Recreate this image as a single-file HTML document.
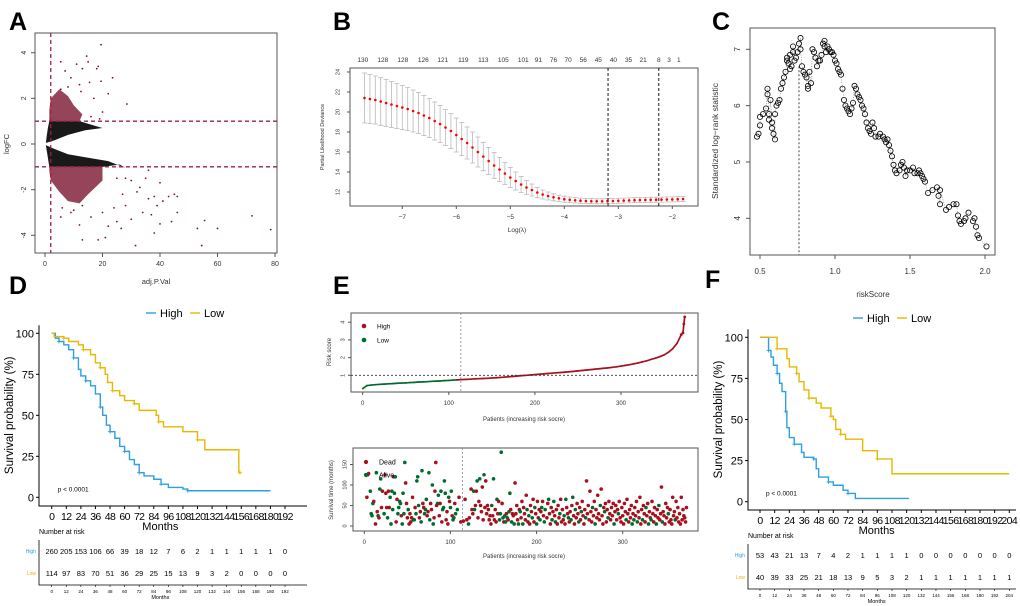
<!DOCTYPE html>
<html><head><meta charset="utf-8"><title>Figure</title>
<style>
html,body{margin:0;padding:0;background:#fff;}
svg{display:block;font-family:"Liberation Sans",Arial,sans-serif;}
</style></head>
<body>
<svg id="fig" width="1020" height="606" viewBox="0 0 1020 606" xmlns="http://www.w3.org/2000/svg">
<rect x="0" y="0" width="1020" height="606" fill="#fff"/>
<g font-weight="bold" font-size="25" fill="#000">
<text x="9" y="30">A</text>
<text x="333" y="30">B</text>
<text x="712" y="30">C</text>
<text x="9" y="294">D</text>
<text x="333" y="294">E</text>
<text x="705" y="288">F</text>
</g>
<g id="pA"></g>
<g id="pB"></g>
<g id="pC"></g>
<g id="pD"></g>
<g id="pE"></g>
<g id="pF"></g>
</svg>
<script>
// ---------- DATA ----------
const volcOutAdj = [19.5,14.5,5.5,15,11,18.5,13,18,7,23.5,15.5,19.5,9,12,22,28.5,20,16,19,5.5,8,12.5,17,25,28,30,33,36,38,40,41,43,46,46,44,40,38,37,34,30,26.5,25,22,21,18.5,13,31.5,54.5,53,55.5,60,72,78.5,12,16,5.5,20,28,24,27,32,36,35,10,13,6,9,45,39];
const volcOutFC  = [4.35,3.85,3.6,3.6,3.5,3.4,3.3,3.3,3.2,2.9,2.7,2.75,2.9,2.6,2.2,1.75,1.4,1.2,1.1,2.4,2.5,2.3,2.0,-1.5,-1.5,-1.6,-1.9,-2.4,-2.3,-1.7,-2.5,-2.3,-2.3,-3.0,-3.4,-3.5,-3.9,-3.1,-3.0,-3.3,-3.7,-3.4,-3.6,-4.1,-4.2,-4.2,-4.45,-4.45,-3.7,-3.35,-3.7,-3.15,-3.75,-3.55,-3.2,-3.2,-3.0,-2.7,-2.8,-2.2,-2.1,-1.15,-1.5,-2.9,-2.7,-2.8,-3.0,-2.2,-2.7];
const volcXTicks = [0,20,40,60,80];
const volcYTicks = [-4,-2,0,2,4];
const volcBlackUp = [[0.3,0.05],[0.6,0.35],[1,0.7],[1.5,1],[12,1],[16,0.85],[20,0.7],[14,0.6],[8,0.4],[3,0.15]];
const volcBlackDn = [[0.3,-0.05],[1,-0.6],[1.5,-1],[20,-1],[26,-0.9],[28,-1.05],[22,-0.75],[15,-0.6],[8,-0.45],[3,-0.2]];
const volcRedUp = [[1.5,1],[12,1],[13,1.3],[10,1.7],[8,2.1],[5,2.4],[2,2.0],[1.5,1.5]];
const volcRedDn = [[1.5,-1],[20,-1],[20,-1.6],[15,-2.2],[12,-2.6],[8,-2.5],[5,-2.1],[2,-1.6],[1.5,-1.2]];

const lassoLambda = [-7.7,-7.6,-7.5,-7.4,-7.3,-7.2,-7.1,-7.0,-6.9,-6.8,-6.7,-6.6,-6.5,-6.4,-6.3,-6.2,-6.1,-6.0,-5.9,-5.8,-5.7,-5.6,-5.5,-5.4,-5.3,-5.2,-5.1,-5.0,-4.9,-4.8,-4.7,-4.6,-4.5,-4.4,-4.3,-4.2,-4.1,-4.0,-3.9,-3.8,-3.7,-3.6,-3.5,-3.4,-3.3,-3.2,-3.1,-3.0,-2.9,-2.8,-2.7,-2.6,-2.5,-2.4,-2.3,-2.2,-2.1,-2.0,-1.9,-1.8];
const lassoMean = [21.4,21.3,21.2,21.05,20.9,20.75,20.6,20.45,20.3,20.1,19.9,19.65,19.4,19.1,18.8,18.45,18.1,17.7,17.3,16.9,16.45,16.0,15.55,15.1,14.65,14.25,13.85,13.45,13.1,12.75,12.45,12.2,11.95,11.75,11.6,11.47,11.37,11.28,11.22,11.17,11.13,11.1,11.08,11.07,11.07,11.08,11.1,11.12,11.14,11.16,11.18,11.2,11.21,11.22,11.23,11.24,11.25,11.26,11.28,11.3];
const lassoErr = [2.5,2.45,2.4,2.38,2.35,2.3,2.25,2.2,2.15,2.1,2.05,2.0,1.95,1.9,1.85,1.8,1.75,1.7,1.65,1.6,1.55,1.5,1.42,1.35,1.28,1.2,1.1,1.0,0.9,0.8,0.7,0.6,0.52,0.45,0.4,0.35,0.32,0.3,0.28,0.27,0.26,0.25,0.25,0.25,0.25,0.25,0.25,0.25,0.25,0.25,0.25,0.25,0.25,0.25,0.25,0.25,0.25,0.25,0.25,0.25];
const lassoTopLambda = [-7.73,-7.36,-6.99,-6.61,-6.25,-5.87,-5.5,-5.13,-4.76,-4.48,-4.2,-3.93,-3.65,-3.37,-3.09,-2.81,-2.54,-2.25,-2.06,-1.88];
const lassoTopLabels = ["130","128","128","126","121","119","113","105","101","91","76","70","56","45","40","35","21","8","3","1"];
const lassoXTicks = [-7,-6,-5,-4,-3,-2];
const lassoYTicks = [12,14,16,18,20,22,24];
const lassoMinLines = [-3.19,-2.25];

const cutX = [0.48,0.49,0.5,0.5,0.52,0.54,0.55,0.55,0.56,0.56,0.57,0.58,0.58,0.59,0.6,0.6,0.61,0.62,0.63,0.64,0.65,0.66,0.67,0.68,0.68,0.69,0.7,0.7,0.71,0.72,0.72,0.73,0.74,0.75,0.76,0.77,0.77,0.78,0.79,0.8,0.81,0.82,0.82,0.83,0.84,0.85,0.86,0.87,0.88,0.89,0.9,0.91,0.92,0.93,0.93,0.94,0.95,0.96,0.97,0.98,0.99,1.0,1.01,1.02,1.03,1.04,1.05,1.06,1.07,1.08,1.09,1.1,1.11,1.12,1.13,1.14,1.15,1.16,1.17,1.18,1.19,1.2,1.21,1.22,1.23,1.24,1.25,1.26,1.27,1.29,1.3,1.32,1.33,1.34,1.35,1.36,1.37,1.38,1.39,1.4,1.41,1.43,1.44,1.45,1.46,1.47,1.48,1.5,1.52,1.53,1.55,1.56,1.57,1.58,1.59,1.6,1.62,1.65,1.68,1.69,1.7,1.7,1.74,1.76,1.79,1.81,1.82,1.83,1.84,1.86,1.87,1.89,1.92,1.93,1.94,1.95,1.96,2.01];
const cutY = [5.45,5.5,5.65,5.8,5.85,5.95,6.3,6.2,5.85,5.75,6.1,5.7,5.6,5.5,5.4,5.85,6.0,6.05,6.1,6.3,6.4,6.5,6.6,6.8,6.85,6.75,6.9,6.65,6.7,7.05,6.95,6.8,6.85,6.95,7.1,7.2,7.0,6.7,6.6,6.55,6.5,6.3,6.35,6.6,6.4,7.0,6.95,6.85,6.7,6.8,6.8,6.9,7.1,7.15,7.05,6.95,7.05,7.0,6.95,6.95,6.9,6.8,6.75,6.65,6.6,6.55,6.3,6.1,6.0,5.95,5.9,5.85,5.95,6.05,6.35,6.3,6.2,6.15,6.1,6.0,5.95,5.85,5.7,5.6,5.55,5.5,5.7,5.6,5.45,5.45,5.5,5.45,5.4,5.35,5.4,5.3,5.2,5.1,4.95,4.85,4.8,4.85,4.95,5.0,4.9,4.75,4.85,4.85,4.9,4.8,4.8,4.85,4.8,4.75,4.7,4.65,4.45,4.5,4.55,4.4,4.25,4.5,4.15,4.2,4.25,4.25,4.05,3.95,3.9,3.95,4.0,4.1,3.95,4.0,3.85,3.7,3.65,3.5];
const cutXTicks = [0.5,1.0,1.5,2.0];
const cutYTicks = [4,5,6,7];
const cutOptimal = 0.76;

const dHighT = [0,3,6,10,14,18,22,24,28,32,36,40,42,45,48,52,56,60,64,68,72,76,84,90,96,108,112,180];
const dHighS = [100,97,95,93,90,85,78,74,71,68,63,55,50,44,40,36,31,28,23,20,15,13,11,8,6,5,4,4];
const dLowT = [0,2,10,14,22,26,32,36,40,44,46,50,56,60,68,72,86,88,92,108,120,126,154,155];
const dLowS = [100,98,97,95,93,90,87,82,79,75,70,65,62,59,57,53,50,46,43,40,35,29,15,15];
const dXTicks = [0,12,24,36,48,60,72,84,96,108,120,132,144,156,168,180,192];
const dYTicks = [0,25,50,75,100];
const dRiskHigh = [260,205,153,106,66,39,18,12,7,6,2,1,1,1,1,1,0];
const dRiskLow = [114,97,83,70,51,36,29,25,15,13,9,3,2,0,0,0,0];

const fHighT = [0,6,7,9,11,14,16,18,21,22,24,28,34,36,44,46,48,56,60,68,72,78,122];
const fHighS = [100,100,92,88,83,78,72,67,55,45,39,35,30,27,26,20,15,12,10,7,5,2,2];
const fLowT = [0,12,14,22,24,30,32,36,40,46,50,58,60,62,66,70,84,96,108,204];
const fLowS = [100,100,93,87,82,78,73,68,63,60,57,52,50,44,41,38,31,26,17,17];
const fXTicks = [0,12,24,36,48,60,72,84,96,108,120,132,144,156,168,180,192,204];
const fRiskHigh = [53,43,21,13,7,4,2,1,1,1,1,0,0,0,0,0,0,0];
const fRiskLow = [40,39,33,25,21,18,13,9,5,3,2,1,1,1,1,1,1,1];

const riskIdx = [0,5,10,15,20,25,30,35,40,45,50,55,60,65,70,75,80,85,90,95,100,105,110,115,120,125,130,135,140,145,150,155,160,165,170,175,180,185,190,195,200,205,210,215,220,225,230,235,240,245,250,255,260,265,270,275,280,285,290,295,300,305,310,315,320,325,330,335,340,345,350,355,360,365,370,372,373,374];
const riskVal = [0.25,0.42,0.45,0.47,0.49,0.5,0.52,0.53,0.55,0.56,0.57,0.59,0.6,0.62,0.63,0.64,0.66,0.67,0.68,0.7,0.71,0.73,0.74,0.76,0.77,0.78,0.8,0.81,0.82,0.83,0.85,0.86,0.88,0.9,0.92,0.94,0.96,0.98,1.0,1.02,1.04,1.06,1.08,1.1,1.12,1.14,1.16,1.18,1.2,1.22,1.25,1.27,1.3,1.32,1.35,1.37,1.4,1.42,1.45,1.48,1.52,1.56,1.6,1.65,1.7,1.76,1.82,1.9,1.97,2.05,2.15,2.3,2.5,2.8,3.3,3.4,3.9,4.3];
const riskCut = 114;
const riskXTicks = [0,100,200,300];
const riskYTicks = [1,2,3,4];
const survYTicks = [0,50,100,150];
const survPts = [[3,70,1],[4,125,0],[5,128,1],[7,85,0],[8,30,0],[9,25,0],[10,55,0],[11,60,1],[13,5,1],[14,130,0],[15,35,1],[16,25,0],[17,20,1],[18,90,0],[19,115,0],[20,45,1],[21,85,1],[23,30,0],[24,125,1],[25,80,1],[26,45,1],[27,20,0],[28,85,1],[29,45,1],[30,70,0],[31,5,0],[32,85,0],[33,40,0],[34,120,1],[35,80,0],[36,120,0],[37,10,1],[38,65,1],[39,30,0],[40,45,0],[41,60,0],[42,55,0],[43,25,1],[44,5,0],[45,80,0],[46,30,0],[47,155,0],[48,105,1],[49,55,1],[50,20,1],[51,40,0],[52,5,1],[53,30,1],[54,10,1],[55,20,1],[56,70,1],[57,15,0],[58,15,0],[59,45,1],[60,30,0],[61,110,0],[62,120,0],[63,50,0],[64,20,1],[65,35,1],[66,10,0],[67,135,0],[68,55,1],[69,45,1],[70,30,0],[71,40,0],[72,65,0],[73,25,1],[74,35,1],[75,130,0],[76,15,0],[77,55,1],[78,40,1],[79,100,0],[80,5,0],[81,20,1],[82,85,1],[83,155,1],[84,50,1],[85,55,0],[86,75,0],[87,25,1],[88,55,1],[89,85,0],[90,10,1],[91,40,0],[92,45,0],[93,110,0],[94,80,0],[95,15,1],[96,35,1],[97,5,1],[98,70,0],[99,60,1],[100,45,0],[101,85,0],[102,25,1],[103,15,0],[104,20,0],[105,55,1],[106,30,0],[108,40,0],[110,70,1],[112,10,1],
[115,12,1],[117,65,1],[119,15,1],[121,5,0],[122,20,1],[124,90,1],[125,40,1],[126,30,1],[127,85,0],[128,40,0],[129,50,1],[130,85,1],[131,110,0],[132,20,1],[133,60,1],[134,115,0],[135,50,1],[136,35,1],[137,95,1],[138,15,1],[139,125,0],[140,45,1],[141,110,1],[142,30,1],[143,50,1],[144,40,1],[145,15,1],[146,25,1],[147,5,1],[148,50,0],[149,25,1],[150,115,0],[151,15,1],[152,40,1],[153,10,1],[154,65,0],[155,30,1],[156,60,1],[157,15,0],[158,30,0],[159,180,0],[160,55,1],[161,20,0],[162,10,1],[163,25,0],[164,10,0],[165,30,1],[166,20,0],[167,15,1],[168,35,0],[169,80,0],[170,40,1],[171,10,0],[172,30,1],[173,25,1],[174,5,0],[175,105,1],[176,30,1],[177,50,1],[178,15,1],[179,5,0],[180,40,1],[181,35,0],[182,20,1],[183,60,1],[184,5,0],[185,45,1],[186,30,1],[187,15,1],[188,75,1],[189,40,0],[190,10,1],[191,25,0],[192,5,1],[193,50,1],[194,35,1],[195,20,0],[196,65,1],[197,10,1],[198,45,0],[199,30,1],[200,5,0],[201,60,1],[202,20,1],[203,40,1],[204,15,0],[205,35,1],[206,45,0],[207,60,1],[208,25,1],[209,10,0],[210,40,0],[212,20,1],[213,55,1],[214,65,0],[215,30,1],[216,5,1],[217,45,1],[218,15,0],[219,35,1],[220,60,0],[221,25,1],[222,10,0],[223,40,1],[224,5,1],[225,50,1],[226,20,1],[227,30,0],[228,65,1],[229,10,1],[230,40,1],[231,15,1],[232,25,0],[233,5,1],[234,65,0],[235,45,1],[236,30,1],[237,20,0],[238,10,1],[239,35,1],[240,15,0],[241,50,1],[242,70,0],[243,25,1],[244,5,1],[245,40,0],[246,20,1],[247,55,1],[248,30,1],[249,10,0],[250,45,1],[251,15,1],[252,35,0],[253,60,1],[254,25,1],[255,5,1],[256,40,1],[257,20,0],[258,110,1],[259,30,1],[260,50,1],[261,15,1],[262,85,1],[263,35,1],[264,10,1],[265,45,0],[266,25,1],[267,60,1],[268,5,0],[269,40,1],[270,20,1],[271,75,1],[272,30,1],[273,15,1],[274,50,0],[275,90,1],[276,25,1],[277,5,1],[278,45,1],[279,35,0],[280,55,1],[281,10,1],[282,40,1],[283,20,0],[284,60,1],[285,30,1],[286,15,1],[287,45,1],[288,25,1],[289,55,1],[290,5,0],[291,35,1],[292,50,1],[293,15,1],[294,40,1],[295,30,0],[296,60,1],[297,20,1],[298,10,1],[299,45,1],[300,25,1],[301,5,1],[302,55,1],[303,35,1],[304,15,0],[305,65,1],[306,30,1],[307,10,1],[308,40,1],[309,20,1],[310,50,1],[311,5,0],[312,30,1],[313,15,0],[314,45,1],[315,25,1],[316,60,1],[317,10,0],[318,35,1],[319,20,1],[320,70,1],[321,5,1],[322,40,1],[323,15,0],[324,50,1],[325,30,1],[326,10,1],[327,45,0],[328,25,1],[329,55,1],[330,5,0],[331,35,1],[332,20,1],[333,15,0],[334,60,1],[335,30,1],[336,10,1],[337,45,1],[338,25,1],[339,5,0],[340,40,1],[341,20,1],[342,50,0],[343,15,1],[344,30,1],[345,95,1],[346,10,0],[347,35,1],[348,25,1],[349,5,1],[350,55,1],[351,20,1],[352,45,1],[353,30,0],[354,10,1],[355,40,1],[356,15,1],[357,5,1],[358,70,1],[359,25,1],[360,35,1],[361,15,0],[362,60,1],[363,20,1],[364,45,1],[365,10,1],[366,30,1],[367,5,1],[368,70,1],[369,15,1],[370,40,1],[371,25,1],[372,20,1],[373,10,1],[374,45,1]];

// ---------- HELPERS ----------
const NS = "http://www.w3.org/2000/svg";
function mk(tag, attrs, parent){ const e=document.createElementNS(NS,tag); for(const k in attrs) e.setAttribute(k,attrs[k]); parent.appendChild(e); return e; }
function txt(parent, x, y, s, size, anchor, extra){ const e=mk("text",Object.assign({x:x,y:y,"font-size":size,"text-anchor":anchor||"middle",fill:"#000"},extra||{}),parent); e.textContent=s; return e; }
function lin(a0,a1,p0,p1){ return v=>p0+(v-a0)*(p1-p0)/(a1-a0); }

// ---------- PANEL A ----------
(function(){
 const g=document.getElementById("pA");
 const X=lin(0,80,45,275), Y=lin(0,4,144,52.7);
 const box=mk("rect",{x:35,y:33,width:242,height:220,fill:"none",stroke:"#555","stroke-width":1},g);
 
 
 [[volcBlackUp,"#000",0.9],[volcBlackDn,"#000",0.9],[volcRedUp,"#7a1530",0.8],[volcRedDn,"#7a1530",0.8]].forEach(([poly,c,o])=>{
  const p=mk("polygon",{points:poly.map(d=>X(d[0])+","+Y(d[1])).join(" "),fill:c,opacity:o},g);
  
  
 });
 volcOutAdj.forEach((a,i)=>{
  const c=mk("circle",{cx:X(a),cy:Y(volcOutFC[i]),r:0.9,fill:"#7a1530"},g);
  
  
 });
 [1,-1].forEach(v=>{const l=mk("line",{x1:35,x2:277,y1:Y(v),y2:Y(v),stroke:"#9b2444","stroke-width":1.3,"stroke-dasharray":"4,3"},g);
  
  });
 const vl=mk("line",{x1:X(2),x2:X(2),y1:33,y2:253,stroke:"#9b2444","stroke-width":1.3,"stroke-dasharray":"4,3"},g);
 
 
 volcXTicks.forEach(v=>{mk("line",{x1:X(v),x2:X(v),y1:253,y2:257,stroke:"#555"},g);
  const t=txt(g,X(v),266,String(v),7,"middle",{fill:"#333"});
  
  });
 volcYTicks.forEach(v=>{mk("line",{x1:31,x2:35,y1:Y(v),y2:Y(v),stroke:"#555"},g);
  const t=txt(g,24,Y(v),String(v),7,"middle",{fill:"#333",transform:`rotate(-90 24 ${Y(v)})`,"dominant-baseline":"middle"});
  
  });
 const xl=txt(g,156,284,"adj.P.Val",7.5,"middle",{fill:"#333"});
 
 
 const yl=txt(g,9,144,"logFC",7.5,"middle",{fill:"#333",transform:"rotate(-90 9 144)"});
 
 
})();

// ---------- PANEL B ----------
(function(){
 const g=document.getElementById("pB");
 const X=lin(-7,-2,402.3,672.3), Y=lin(12,24,192,72);
 const box=mk("rect",{x:350,y:68,width:348,height:138,fill:"none",stroke:"#555"},g);
 
 
 lassoLambda.forEach((l,i)=>{
  const x=X(l), hi=Y(lassoMean[i]+lassoErr[i]), lo=Y(lassoMean[i]-lassoErr[i]);
  const e=mk("path",{d:`M${x},${hi}V${lo}M${x-2.5},${hi}H${x+2.5}M${x-2.5},${lo}H${x+2.5}`,stroke:"#b8b8b8","stroke-width":0.8,fill:"none"},g);
  
  
 });
 lassoLambda.forEach((l,i)=>{
  const c=mk("circle",{cx:X(l),cy:Y(lassoMean[i]),r:1.3,fill:"#ff0000"},g);
  
  
 });
 lassoMinLines.forEach(v=>{const l=mk("line",{x1:X(v),x2:X(v),y1:68,y2:206,stroke:"#000","stroke-dasharray":"3,2","stroke-width":0.9},g);
  
  });
 lassoXTicks.forEach(v=>{mk("line",{x1:X(v),x2:X(v),y1:206,y2:209,stroke:"#555"},g);
  const t=txt(g,X(v),219,"\u2212"+Math.abs(v),6.5,"middle",{fill:"#333"});
  
  });
 lassoYTicks.forEach(v=>{mk("line",{x1:347,x2:350,y1:Y(v),y2:Y(v),stroke:"#555"},g);
  const t=txt(g,338,Y(v),String(v),5.5,"middle",{fill:"#333",transform:`rotate(-90 338 ${Y(v)})`,"dominant-baseline":"middle"});
  
  });
 lassoTopLambda.forEach((v,i)=>{const t=txt(g,X(v),62,lassoTopLabels[i],6.5,"middle",{fill:"#333"});
  
  });
 const xl=txt(g,517,232,"Log(\u03bb)",6.5,"middle",{fill:"#333"});
 
 
 const yl=txt(g,324,137,"Partial Likelihood Deviance",5.5,"middle",{fill:"#333",transform:"rotate(-90 324 137)"});
 
 
})();

// ---------- PANEL C ----------
(function(){
 const g=document.getElementById("pC");
 const X=lin(0.5,2.0,760,985), Y=lin(4,7,218.3,49.3);
 const box=mk("rect",{x:750,y:28,width:245,height:227,fill:"none",stroke:"#555"},g);
 
 
 const pl=mk("polyline",{points:cutX.map((x,i)=>X(x)+","+Y(cutY[i])).join(" "),fill:"none",stroke:"#555","stroke-width":0.5,"stroke-dasharray":"1,1.5"},g);
 
 
 cutX.forEach((x,i)=>{const c=mk("circle",{cx:X(x),cy:Y(cutY[i]),r:2.6,fill:"none",stroke:"#000","stroke-width":0.8},g);
  
  });
 const vl=mk("line",{x1:X(cutOptimal),x2:X(cutOptimal),y1:Y(6.7),y2:255,stroke:"#333","stroke-dasharray":"2,2","stroke-width":0.9},g);
 
 
 cutXTicks.forEach(v=>{mk("line",{x1:X(v),x2:X(v),y1:255,y2:259,stroke:"#555"},g);
  const t=txt(g,X(v),274,v.toFixed(1),8,"middle",{fill:"#333"});
  
  });
 cutYTicks.forEach(v=>{mk("line",{x1:746,x2:750,y1:Y(v),y2:Y(v),stroke:"#555"},g);
  const t=txt(g,738,Y(v),String(v),8,"middle",{fill:"#333",transform:`rotate(-90 738 ${Y(v)})`,"dominant-baseline":"middle"});
  
  });
 const xl=txt(g,873,297,"riskScore",8,"middle",{fill:"#333"});
 
 
 const yl=txt(g,718,141,"Standardized log\u2212rank statistic",8.5,"middle",{fill:"#333",transform:"rotate(-90 718 141)"});
 
 
})();

// ---------- KM ----------
function km(g, cfg){
 const X=lin(0,cfg.xmax,cfg.x0,cfg.x1), Y=lin(0,100,cfg.y0,cfg.y100);
 const ax=mk("path",{d:`M${cfg.axL},${cfg.y100-8}V${cfg.axB}H${cfg.axR}`,stroke:"#000","stroke-width":1,fill:"none"},g);
 
 
 [[cfg.hT,cfg.hS,"#2e9fdf","high-curve"],[cfg.lT,cfg.lS,"#e7b800","low-curve"]].forEach(([T,S,c,n])=>{
  let d=`M${X(T[0])},${Y(S[0])}`;
  for(let i=1;i<T.length;i++){ d+=`H${X(T[i])}V${Y(S[i])}`; }
  const p=mk("path",{d:d,stroke:c,"stroke-width":1.4,fill:"none"},g);
  
  
  for(let i=2;i<T.length;i+=3){ const m=mk("path",{d:`M${X(T[i])-2},${Y(S[i])}h4M${X(T[i])},${Y(S[i])-2}v4`,stroke:c,"stroke-width":0.8},g);
   
    }
 });
 cfg.yTicks.forEach(v=>{mk("line",{x1:cfg.axL-3,x2:cfg.axL,y1:Y(v),y2:Y(v),stroke:"#000"},g);
  const t=txt(g,cfg.axL-5,Y(v)+4,String(v),11,"end");
  
  });
 cfg.xTicks.forEach(v=>{mk("line",{x1:X(v),x2:X(v),y1:cfg.axB,y2:cfg.axB+3,stroke:"#000"},g);
  const t=txt(g,X(v),cfg.axB+14,String(v),10.5,"middle",{"letter-spacing":"-0.6"});
  
  });
 const mo=txt(g,(cfg.x0+cfg.x1)/2-8,cfg.axB+24,"Months",11);
 
 
 const yl=txt(g,cfg.axL-26,(cfg.y0+cfg.y100)/2,"Survival probability (%)",11.5,"middle",{transform:`rotate(-90 ${cfg.axL-26} ${(cfg.y0+cfg.y100)/2})`});
 
 
 const pv=txt(g,cfg.x0+6,cfg.y0-6,"p < 0.0001",6.5,"start");
 
 
 const lg=mk("g",{},g);
 
 
 const lx=cfg.legX, ly=cfg.legY;
 mk("line",{x1:lx,x2:lx+10,y1:ly,y2:ly,stroke:"#2e9fdf","stroke-width":1.4},lg);
 const lh=txt(lg,lx+14,ly+4,"High",11,"start");  
 mk("line",{x1:lx+44,x2:lx+54,y1:ly,y2:ly,stroke:"#e7b800","stroke-width":1.4},lg);
 const ll=txt(lg,lx+58,ly+4,"Low",11,"start");  
 const nr=txt(g,cfg.axL,cfg.tTitle,"Number at risk",7,"start");
 
 
 const tax=mk("path",{d:`M${cfg.axL},${cfg.tTitle+6}V${cfg.tAx}H${cfg.axR}`,stroke:"#000","stroke-width":0.8,fill:"none"},g);
 
 
 [[cfg.rH,cfg.tH,"#2e9fdf","High"],[cfg.rL,cfg.tL,"#e7b800","Low"]].forEach(([arr,y,c,n])=>{
  const lab=txt(g,cfg.axL-3,y+2,n,5,"end",{fill:c});
  
  
  arr.forEach((v,i)=>{const t=txt(g,X(cfg.xTicks[i]),y+3,String(v),7.5);
   
   });
 });
 cfg.xTicks.forEach(v=>{mk("line",{x1:X(v),x2:X(v),y1:cfg.tAx,y2:cfg.tAx+2,stroke:"#000","stroke-width":0.6},g);
  const t=txt(g,X(v),cfg.tAx+8,String(v),4.5);
  
  });
 const m2=txt(g,(cfg.x0+cfg.x1)/2-8,cfg.tAx+14,"Months",5.5);
 
 
}
km(document.getElementById("pD"),{xmax:192,x0:51.7,x1:285,y0:497.3,y100:333.3,axL:39,axB:506,axR:307,
 hT:dHighT,hS:dHighS,lT:dLowT,lS:dLowS,xTicks:dXTicks,yTicks:dYTicks,legX:146,legY:313,
 tTitle:534,tH:551,tL:573,tAx:585,rH:dRiskHigh,rL:dRiskLow});
km(document.getElementById("pF"),{xmax:204,x0:760,x1:1009.3,y0:501.7,y100:337.3,axL:748,axB:510,axR:1016,
 hT:fHighT,hS:fHighS,lT:fLowT,lS:fLowS,xTicks:fXTicks,yTicks:dYTicks,legX:853,legY:318,
 tTitle:538,tH:555,tL:577,tAx:589,rH:fRiskHigh,rL:fRiskLow});

// ---------- PANEL E ----------
(function(){
 const g=document.getElementById("pE");
 const X=lin(0,300,362.7,621), Y=lin(0,1,393,375.3);
 const RED="#a8101e", GRN="#006b2f";
 const box=mk("rect",{x:351,y:313,width:347,height:79,fill:"none",stroke:"#555"},g);
 
 
 riskIdx.forEach((p,i)=>{ if(i===0) return;
  const c=p<=riskCut?GRN:RED;
  const s=mk("line",{x1:X(riskIdx[i-1]),y1:Y(riskVal[i-1]),x2:X(p),y2:Y(riskVal[i]),stroke:c,"stroke-width":1.7,"stroke-linecap":"round"},g);
  
  
 });
 riskIdx.slice(-4).forEach((p,k)=>{const i=riskIdx.length-4+k;
  const c=mk("circle",{cx:X(p),cy:Y(riskVal[i]),r:1.4,fill:RED},g);
  
  });
 const h=mk("line",{x1:351,x2:698,y1:Y(1),y2:Y(1),stroke:"#333","stroke-dasharray":"2,2","stroke-width":0.8},g);
 
 
 const v=mk("line",{x1:X(riskCut),x2:X(riskCut),y1:313,y2:392,stroke:"#888","stroke-dasharray":"2,2","stroke-width":0.8},g);
 
 
 riskXTicks.forEach(t=>{mk("line",{x1:X(t),x2:X(t),y1:392,y2:395,stroke:"#555"},g);
  const e=txt(g,X(t),405,String(t),6,"middle",{fill:"#333"});
  
  });
 riskYTicks.forEach(t=>{mk("line",{x1:348,x2:351,y1:Y(t),y2:Y(t),stroke:"#555"},g);
  const e=txt(g,343,Y(t),String(t),5.5,"middle",{fill:"#333",transform:`rotate(-90 343 ${Y(t)})`,"dominant-baseline":"middle"});
  
  });
 const xl=txt(g,524,421,"Patients (increasing risk socre)",6,"middle",{fill:"#333"});
 
 
 const yl=txt(g,331,352,"Risk score",6,"middle",{fill:"#333",transform:"rotate(-90 331 352)"});
 
 
 [[RED,"High",326],[GRN,"Low",340]].forEach(([c,n,y])=>{
  const d=mk("circle",{cx:364,cy:y,r:2.3,fill:c},g);
  
  
  const t=txt(g,377,y+2.5,n,6.5,"start");
  
  
 });
 const X2=lin(0,300,364.3,622.7), Y2=lin(0,150,526,464.5);
 const box2=mk("rect",{x:353,y:448,width:345,height:83,fill:"none",stroke:"#555"},g);
 
 
 const v2=mk("line",{x1:X2(riskCut),x2:X2(riskCut),y1:448,y2:531,stroke:"#888","stroke-dasharray":"2,2","stroke-width":0.8},g);
 
 
 survPts.forEach(d=>{
  const c=mk("circle",{cx:X2(d[0]),cy:Y2(d[1]),r:1.8,fill:d[2]?RED:GRN},g);
  
  
 });
 riskXTicks.forEach(t=>{mk("line",{x1:X2(t),x2:X2(t),y1:531,y2:534,stroke:"#555"},g);
  const e=txt(g,X2(t),544,String(t),6,"middle",{fill:"#333"});
  
  });
 survYTicks.forEach(t=>{mk("line",{x1:350,x2:353,y1:Y2(t),y2:Y2(t),stroke:"#555"},g);
  const e=txt(g,345,Y2(t),String(t),5.5,"middle",{fill:"#333",transform:`rotate(-90 345 ${Y2(t)})`,"dominant-baseline":"middle"});
  
  });
 const xl2=txt(g,524,558,"Patients (increasing risk socre)",6,"middle",{fill:"#333"});
 
 
 const yl2=txt(g,333,490,"Survival time (months)",6,"middle",{fill:"#333",transform:"rotate(-90 333 490)"});
 
 
 [[RED,"Dead",462],[GRN,"Alive",475]].forEach(([c,n,y])=>{
  const d=mk("circle",{cx:366,cy:y,r:2.1,fill:c},g);
  
  
  const t=txt(g,379,y+2.5,n,7,"start");
  
  
 });
})();
</script>
</body></html>
